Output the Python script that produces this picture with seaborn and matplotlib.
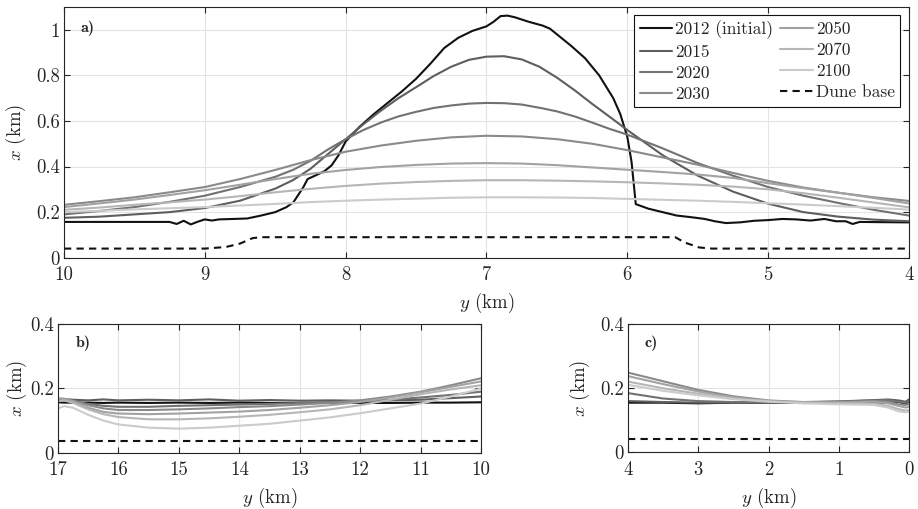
import matplotlib
matplotlib.use("Agg")
import matplotlib.pyplot as plt
from matplotlib.lines import Line2D
from matplotlib.ticker import FuncFormatter
import pandas as pd
import seaborn as sns

# ---- panel a) : alongshore y = 10 ... 4 km ----
y_a = [10, 9.75, 9.5, 9.25, 9, 8.75, 8.5, 8.25, 8, 7.75, 7.5, 7.25, 7,
       6.75, 6.5, 6.25, 6, 5.75, 5.5, 5.25, 5, 4.75, 4.5, 4.25, 4]
x2030_a = [0.232, 0.248, 0.265, 0.287, 0.31, 0.345, 0.385, 0.428, 0.465, 0.492, 0.513, 0.528, 0.535,
           0.532, 0.52, 0.5, 0.472, 0.44, 0.408, 0.372, 0.337, 0.308, 0.285, 0.265, 0.249]
x2050_a = [0.222, 0.238, 0.255, 0.275, 0.296, 0.32, 0.345, 0.368, 0.385, 0.398, 0.407, 0.413, 0.415,
           0.413, 0.406, 0.396, 0.386, 0.376, 0.365, 0.35, 0.327, 0.305, 0.285, 0.262, 0.238]
x2070_a = [0.21, 0.22, 0.232, 0.243, 0.255, 0.27, 0.287, 0.302, 0.315, 0.325, 0.332, 0.337, 0.34,
           0.34, 0.338, 0.335, 0.331, 0.326, 0.32, 0.312, 0.3, 0.283, 0.263, 0.242, 0.221]
x2100_a = [0.2, 0.206, 0.212, 0.217, 0.222, 0.229, 0.236, 0.244, 0.25, 0.255, 0.259, 0.263, 0.265,
           0.265, 0.264, 0.262, 0.258, 0.254, 0.25, 0.245, 0.239, 0.233, 0.226, 0.219, 0.211]

# 2015 and 2020 change fast, so they are read more densely
y2015_a = [10, 9.75, 9.5, 9.25, 9, 8.75, 8.5, 8.375, 8.25, 8.125, 8, 7.875, 7.75, 7.625, 7.5,
           7.375, 7.25, 7.125, 7, 6.875, 6.75, 6.625, 6.5, 6.375, 6.25, 6.125, 6, 5.875, 5.75,
           5.5, 5.25, 5, 4.75, 4.5, 4.25, 4]
x2015_a = [0.175, 0.18, 0.19, 0.2, 0.218, 0.25, 0.303, 0.34, 0.39, 0.455, 0.52, 0.585, 0.645,
           0.7, 0.748, 0.797, 0.838, 0.868, 0.882, 0.884, 0.87, 0.838, 0.79, 0.735, 0.675, 0.618,
           0.56, 0.505, 0.45, 0.36, 0.29, 0.237, 0.2, 0.18, 0.167, 0.16]
y2020_a = [10, 9.75, 9.5, 9.25, 9, 8.75, 8.5, 8.375, 8.25, 8.125, 8, 7.875, 7.75, 7.625, 7.5,
           7.375, 7.25, 7.125, 7, 6.875, 6.75, 6.6, 6.5, 6.375, 6.25, 6.125, 6, 5.875, 5.75,
           5.5, 5.25, 5, 4.75, 4.5, 4.25, 4]
x2020_a = [0.19, 0.205, 0.222, 0.245, 0.272, 0.31, 0.355, 0.385, 0.425, 0.475, 0.52, 0.56, 0.593,
           0.62, 0.64, 0.657, 0.668, 0.676, 0.679, 0.678, 0.672, 0.655, 0.642, 0.62, 0.593, 0.565,
           0.54, 0.51, 0.48, 0.415, 0.36, 0.31, 0.272, 0.24, 0.21, 0.185]

# initial 2012 shoreline, finer sampling
y2012_a = [10, 9.6, 9.25, 9.2, 9.15, 9.1, 9.05, 9.0, 8.95, 8.9, 8.8, 8.7, 8.6, 8.5, 8.42, 8.37,
           8.3, 8.27, 8.2, 8.15, 8.1, 8.05, 8.0, 7.9, 7.8, 7.7, 7.6, 7.5, 7.4, 7.3, 7.2, 7.1,
           7.0, 6.95, 6.9, 6.85, 6.8, 6.75, 6.7, 6.6, 6.55, 6.5, 6.4, 6.3, 6.2, 6.1, 6.05, 6.0,
           5.97, 5.94, 5.85, 5.75, 5.65, 5.55, 5.45, 5.38, 5.3, 5.2, 5.1, 5.0, 4.9, 4.8, 4.7,
           4.6, 4.52, 4.45, 4.4, 4.35, 4.2, 4.0]
x2012_a = [0.157, 0.157, 0.157, 0.148, 0.162, 0.146, 0.158, 0.168, 0.163, 0.168, 0.17, 0.172,
           0.185, 0.2, 0.222, 0.244, 0.31, 0.345, 0.365, 0.38, 0.405, 0.45, 0.51, 0.575, 0.63,
           0.68, 0.73, 0.785, 0.85, 0.92, 0.965, 0.995, 1.015, 1.035, 1.06, 1.062, 1.055, 1.045,
           1.035, 1.018, 1.005, 0.98, 0.93, 0.875, 0.8, 0.7, 0.63, 0.53, 0.42, 0.235, 0.215,
           0.2, 0.185, 0.178, 0.17, 0.16, 0.152, 0.155, 0.162, 0.165, 0.17, 0.168, 0.163, 0.17,
           0.16, 0.16, 0.148, 0.157, 0.156, 0.155]

ydune_a = [10, 9.0, 8.85, 8.75, 8.66, 8.6, 5.66, 5.59, 5.49, 5.4, 4]
xdune_a = [0.04, 0.04, 0.047, 0.062, 0.086, 0.09, 0.09, 0.066, 0.045, 0.04, 0.04]

# ---- panel b) : y = 17 ... 10 km ----
y_b = [17, 16.9, 16.75, 16.5, 16.25, 16, 15.5, 15, 14.5, 14, 13.5, 13, 12.5, 12, 11.5, 11, 10.5, 10]
x2012_b = [0.157, 0.156, 0.156, 0.156, 0.155, 0.156, 0.155, 0.156, 0.155, 0.156, 0.155, 0.155,
           0.156, 0.155, 0.155, 0.156, 0.156, 0.157]
x2015_b = [0.168, 0.167, 0.165, 0.163, 0.166, 0.163, 0.165, 0.163, 0.166, 0.162, 0.164, 0.162,
           0.163, 0.162, 0.163, 0.165, 0.17, 0.175]
x2020_b = [0.165, 0.165, 0.16, 0.152, 0.146, 0.143, 0.143, 0.146, 0.148, 0.15, 0.152, 0.155,
           0.157, 0.16, 0.165, 0.172, 0.18, 0.19]
x2030_b = [0.168, 0.168, 0.162, 0.148, 0.138, 0.133, 0.133, 0.135, 0.138, 0.142, 0.145, 0.15,
           0.155, 0.163, 0.175, 0.19, 0.21, 0.232]
x2050_b = [0.168, 0.168, 0.16, 0.14, 0.127, 0.122, 0.12, 0.122, 0.125, 0.128, 0.133, 0.14,
           0.148, 0.158, 0.172, 0.188, 0.205, 0.222]
x2070_b = [0.16, 0.163, 0.155, 0.135, 0.12, 0.111, 0.104, 0.104, 0.107, 0.112, 0.118, 0.126,
           0.135, 0.148, 0.165, 0.182, 0.197, 0.21]
x2100_b = [0.138, 0.145, 0.14, 0.118, 0.1, 0.088, 0.078, 0.075, 0.078, 0.084, 0.09, 0.1,
           0.11, 0.123, 0.138, 0.153, 0.175, 0.2]
ydune_b = [17, 10]
xdune_b = [0.037, 0.037]

# ---- panel c) : y = 4 ... 0 km ----
y_c = [4, 3.5, 3, 2.5, 2, 1.5, 1, 0.5, 0.3, 0.15, 0.05, 0]
x2012_c = [0.155, 0.155, 0.153, 0.155, 0.155, 0.154, 0.155, 0.156, 0.155, 0.158, 0.15, 0.16]
x2015_c = [0.16, 0.157, 0.155, 0.155, 0.156, 0.157, 0.159, 0.163, 0.165, 0.162, 0.158, 0.165]
x2020_c = [0.185, 0.168, 0.16, 0.157, 0.156, 0.156, 0.158, 0.162, 0.163, 0.158, 0.155, 0.16]
x2030_c = [0.249, 0.222, 0.195, 0.175, 0.162, 0.157, 0.157, 0.16, 0.158, 0.15, 0.148, 0.15]
x2050_c = [0.238, 0.213, 0.19, 0.172, 0.16, 0.156, 0.156, 0.158, 0.153, 0.145, 0.14, 0.142]
x2070_c = [0.221, 0.2, 0.183, 0.168, 0.16, 0.155, 0.153, 0.152, 0.145, 0.135, 0.13, 0.132]
x2100_c = [0.211, 0.192, 0.178, 0.166, 0.158, 0.153, 0.15, 0.148, 0.14, 0.128, 0.125, 0.127]
ydune_c = [4, 0]
xdune_c = [0.04, 0.04]

labels = ["2012 (initial)", "2015", "2020", "2030", "2050", "2070", "2100", "Dune base"]
colors = ["#111111", "#5e5e5e", "#727272", "#8a8a8a", "#a2a2a2", "#b6b6b6", "#cbcbcb", "#111111"]


def long_frame(parts):
    frames = []
    for name, yv, xv in parts:
        frames.append(pd.DataFrame({"y": yv, "x": xv, "series": name}))
    return pd.concat(frames, ignore_index=True)


df_a = long_frame([
    (labels[0], y2012_a, x2012_a), (labels[1], y2015_a, x2015_a), (labels[2], y2020_a, x2020_a),
    (labels[3], y_a, x2030_a), (labels[4], y_a, x2050_a), (labels[5], y_a, x2070_a),
    (labels[6], y_a, x2100_a), (labels[7], ydune_a, xdune_a)])
df_b = long_frame([
    (labels[0], y_b, x2012_b), (labels[1], y_b, x2015_b), (labels[2], y_b, x2020_b),
    (labels[3], y_b, x2030_b), (labels[4], y_b, x2050_b), (labels[5], y_b, x2070_b),
    (labels[6], y_b, x2100_b), (labels[7], ydune_b, xdune_b)])
df_c = long_frame([
    (labels[0], y_c, x2012_c), (labels[1], y_c, x2015_c), (labels[2], y_c, x2020_c),
    (labels[3], y_c, x2030_c), (labels[4], y_c, x2050_c), (labels[5], y_c, x2070_c),
    (labels[6], y_c, x2100_c), (labels[7], ydune_c, xdune_c)])

sns.set_theme(style="ticks")
plt.rcParams["font.family"] = "serif"
plt.rcParams["font.serif"] = ["cmr10", "DejaVu Serif"]
plt.rcParams["mathtext.fontset"] = "cm"
plt.rcParams["axes.formatter.use_mathtext"] = True
plt.rcParams["axes.unicode_minus"] = False

palette = dict(zip(labels, colors))
dashes = {lab: "" for lab in labels}
dashes["Dune base"] = (3.5, 2.5)

fig = plt.figure(figsize=(9.18, 5.09), dpi=100)
ax_a = fig.add_axes([0.0697, 0.4937, 0.9205, 0.4926])
ax_b = fig.add_axes([0.0632, 0.1106, 0.4608, 0.2523])
ax_c = fig.add_axes([0.6841, 0.1114, 0.3061, 0.2515])

fmt = FuncFormatter(lambda v, p: f"{v:g}")
fs = 13.5

for ax, df in [(ax_a, df_a), (ax_b, df_b), (ax_c, df_c)]:
    sns.lineplot(data=df, x="y", y="x", hue="series", style="series",
                 hue_order=labels, style_order=labels, palette=palette, dashes=dashes,
                 sort=False, estimator=None, linewidth=1.5, legend=False, ax=ax)
    ax.grid(True, color="#e4e4e4", linewidth=0.8)
    ax.set_axisbelow(True)
    ax.tick_params(direction="in", top=True, right=True, length=4, width=0.8,
                   labelsize=fs, colors="#262626")
    ax.tick_params(axis="x", pad=6)
    ax.tick_params(axis="y", pad=3)
    for sp in ax.spines.values():
        sp.set_color("#262626")
        sp.set_linewidth(0.8)
    ax.yaxis.set_major_formatter(fmt)
    ax.xaxis.set_major_formatter(fmt)
    ax.set_xlabel("$y$ (km)", fontsize=fs, labelpad=5)
    ax.set_ylabel("$x$ (km)", fontsize=fs, labelpad=6)

ax_a.set_xlim(10, 4)
ax_a.set_ylim(0, 1.1)
ax_a.set_xticks(range(4, 11))
ax_a.set_yticks([0, 0.2, 0.4, 0.6, 0.8, 1.0])

ax_b.set_xlim(17, 10)
ax_b.set_ylim(0, 0.4)
ax_b.set_xticks(range(10, 18))
ax_b.set_yticks([0, 0.2, 0.4])
ax_b.set_ylabel("$x$ (km)", fontsize=fs, labelpad=1)

ax_c.set_xlim(4, 0)
ax_c.set_ylim(0, 0.4)
ax_c.set_xticks(range(0, 5))
ax_c.set_yticks([0, 0.2, 0.4])

ax_a.text(0.02, 0.915, "a)", transform=ax_a.transAxes, fontfamily="cmb10", fontsize=11.5, va="center")
ax_b.text(0.042, 0.85, "b)", transform=ax_b.transAxes, fontfamily="cmb10", fontsize=11.5, va="center")
ax_c.text(0.06, 0.85, "c)", transform=ax_c.transAxes, fontfamily="cmb10", fontsize=11.5, va="center")

handles = []
for lab, col in zip(labels, colors):
    ls = (0, (3.5, 2.5)) if lab == "Dune base" else "-"
    handles.append(Line2D([], [], color=col, lw=1.5, linestyle=ls, label=lab))
leg = ax_a.legend(handles=handles, ncol=2, loc="upper right", bbox_to_anchor=(0.9893, 0.968),
                  borderaxespad=0, fontsize=12.5, frameon=True, fancybox=False,
                  edgecolor="#111111", framealpha=1, handlelength=1.9, handletextpad=0.15,
                  columnspacing=0.4, labelspacing=0.33, borderpad=0.3)
leg.get_frame().set_linewidth(0.8)

fig.savefig("out.png", dpi=100)
